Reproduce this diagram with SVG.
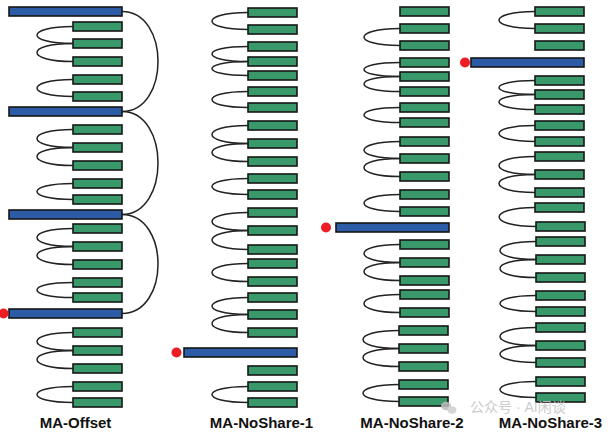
<svg xmlns="http://www.w3.org/2000/svg" width="613" height="438" viewBox="0 0 613 438">
<style>
.g{fill:#3a996a;stroke:#161616;stroke-width:1.6}
.b{fill:#2d5ca6;stroke:#161616;stroke-width:1.6}
.d{fill:#ee1c24}
.c path{fill:none;stroke:#222;stroke-width:1.5}
.lbl{font-family:"Liberation Sans",Arial,sans-serif;font-weight:bold;font-size:15px;fill:#111;text-anchor:middle}
.wm{font-family:"Liberation Sans","Noto Sans CJK SC",sans-serif;font-size:14px;fill:#c4c4c4}
</style>
<rect width="613" height="438" fill="#fff"/>

<!-- Column 1: MA-Offset -->
<g id="offset">
  <g id="o-b1"><rect class="b" x="9" y="7" width="113" height="9"/></g>
  <g id="o-g1"><rect class="g" x="73" y="22" width="49" height="9"/></g>
  <g id="o-g2"><rect class="g" x="73" y="39" width="49" height="9"/></g>
  <g id="o-g3"><rect class="g" x="73" y="57" width="49" height="9"/></g>
  <g id="o-g4"><rect class="g" x="73" y="75" width="49" height="9"/></g>
  <g id="o-g5"><rect class="g" x="73" y="92" width="49" height="9"/></g>
  <g id="o-b2"><rect class="b" x="9" y="107" width="113" height="9"/></g>
  <g id="o-g6"><rect class="g" x="73" y="125" width="49" height="9"/></g>
  <g id="o-g7"><rect class="g" x="73" y="143" width="49" height="9"/></g>
  <g id="o-g8"><rect class="g" x="73" y="161" width="49" height="9"/></g>
  <g id="o-g9"><rect class="g" x="73" y="179" width="49" height="9"/></g>
  <g id="o-g10"><rect class="g" x="73" y="195" width="49" height="9"/></g>
  <g id="o-b3"><rect class="b" x="9" y="210" width="113" height="9"/></g>
  <g id="o-g11"><rect class="g" x="73" y="224" width="49" height="9"/></g>
  <g id="o-g12"><rect class="g" x="73" y="242" width="49" height="9"/></g>
  <g id="o-g13"><rect class="g" x="73" y="260" width="49" height="9"/></g>
  <g id="o-g14"><rect class="g" x="73" y="278" width="49" height="9"/></g>
  <g id="o-g15"><rect class="g" x="73" y="293" width="49" height="9"/></g>
  <g id="o-b4"><rect class="b" x="9" y="309" width="113" height="9"/><circle class="d" cx="3.5" cy="313.5" r="5"/></g>
  <g id="o-g16"><rect class="g" x="73" y="328" width="49" height="9"/></g>
  <g id="o-g17"><rect class="g" x="73" y="346" width="49" height="9"/></g>
  <g id="o-g18"><rect class="g" x="73" y="364" width="49" height="9"/></g>
  <g id="o-g19"><rect class="g" x="73" y="382" width="49" height="9"/></g>
  <g id="o-g20"><rect class="g" x="73" y="398" width="49" height="9"/></g>
</g>

<!-- Column 2: MA-NoShare-1 -->
<g id="noshare1">
  <g id="n1-g1"><rect class="g" x="248" y="8" width="49" height="9"/></g>
  <g id="n1-g2"><rect class="g" x="248" y="25" width="49" height="9"/></g>
  <g id="n1-g3"><rect class="g" x="248" y="42" width="49" height="9"/></g>
  <g id="n1-g4"><rect class="g" x="248" y="57" width="49" height="9"/></g>
  <g id="n1-g5"><rect class="g" x="248" y="71" width="49" height="9"/></g>
  <g id="n1-g6"><rect class="g" x="248" y="87" width="49" height="9"/></g>
  <g id="n1-g7"><rect class="g" x="248" y="103" width="49" height="9"/></g>
  <g id="n1-g8"><rect class="g" x="248" y="121" width="49" height="9"/></g>
  <g id="n1-g9"><rect class="g" x="248" y="139" width="49" height="9"/></g>
  <g id="n1-g10"><rect class="g" x="248" y="157" width="49" height="9"/></g>
  <g id="n1-g11"><rect class="g" x="248" y="174" width="49" height="9"/></g>
  <g id="n1-g12"><rect class="g" x="248" y="190" width="49" height="9"/></g>
  <g id="n1-g13"><rect class="g" x="248" y="208" width="49" height="9"/></g>
  <g id="n1-g14"><rect class="g" x="248" y="226" width="49" height="9"/></g>
  <g id="n1-g15"><rect class="g" x="248" y="245" width="49" height="9"/></g>
  <g id="n1-g16"><rect class="g" x="248" y="259" width="49" height="9"/></g>
  <g id="n1-g17"><rect class="g" x="248" y="277" width="49" height="9"/></g>
  <g id="n1-g18"><rect class="g" x="248" y="293" width="49" height="9"/></g>
  <g id="n1-g19"><rect class="g" x="248" y="310" width="49" height="9"/></g>
  <g id="n1-g20"><rect class="g" x="248" y="328" width="49" height="9"/></g>
  <g id="n1-b1"><rect class="b" x="184" y="348" width="113" height="9"/><circle class="d" cx="176.5" cy="352.5" r="5"/></g>
  <g id="n1-g21"><rect class="g" x="248" y="366" width="49" height="9"/></g>
  <g id="n1-g22"><rect class="g" x="248" y="382" width="49" height="9"/></g>
  <g id="n1-g23"><rect class="g" x="248" y="398" width="49" height="9"/></g>
</g>

<!-- Column 3: MA-NoShare-2 -->
<g id="noshare2">
  <g id="n2-g1"><rect class="g" x="400" y="7" width="49" height="9"/></g>
  <g id="n2-g2"><rect class="g" x="400" y="24" width="49" height="9"/></g>
  <g id="n2-g3"><rect class="g" x="400" y="41" width="49" height="9"/></g>
  <g id="n2-g4"><rect class="g" x="400" y="58" width="49" height="9"/></g>
  <g id="n2-g5"><rect class="g" x="400" y="72" width="49" height="9"/></g>
  <g id="n2-g6"><rect class="g" x="400" y="87" width="49" height="9"/></g>
  <g id="n2-g7"><rect class="g" x="400" y="103" width="49" height="9"/></g>
  <g id="n2-g8"><rect class="g" x="400" y="118" width="49" height="9"/></g>
  <g id="n2-g9"><rect class="g" x="400" y="137" width="49" height="9"/></g>
  <g id="n2-g10"><rect class="g" x="400" y="154" width="49" height="9"/></g>
  <g id="n2-g11"><rect class="g" x="400" y="172" width="49" height="9"/></g>
  <g id="n2-g12"><rect class="g" x="400" y="190" width="49" height="9"/></g>
  <g id="n2-g13"><rect class="g" x="400" y="207" width="49" height="9"/></g>
  <g id="n2-b1"><rect class="b" x="336" y="223" width="113" height="9"/><circle class="d" cx="326" cy="227.5" r="5"/></g>
  <g id="n2-g14"><rect class="g" x="400" y="240" width="49" height="9"/></g>
  <g id="n2-g15"><rect class="g" x="400" y="258" width="49" height="9"/></g>
  <g id="n2-g16"><rect class="g" x="400" y="276" width="49" height="9"/></g>
  <g id="n2-g17"><rect class="g" x="400" y="290" width="49" height="9"/></g>
  <g id="n2-g18"><rect class="g" x="400" y="308" width="49" height="9"/></g>
  <g id="n2-g19"><rect class="g" x="399" y="326" width="49" height="9"/></g>
  <g id="n2-g20"><rect class="g" x="399" y="344" width="49" height="9"/></g>
  <g id="n2-g21"><rect class="g" x="399" y="362" width="49" height="9"/></g>
  <g id="n2-g22"><rect class="g" x="399" y="380" width="49" height="9"/></g>
  <g id="n2-g23"><rect class="g" x="399" y="397" width="49" height="9"/></g>
</g>

<!-- Column 4: MA-NoShare-3 -->
<g id="noshare3">
  <g id="n3-g1"><rect class="g" x="535" y="7" width="49" height="9"/></g>
  <g id="n3-g2"><rect class="g" x="535" y="24" width="49" height="9"/></g>
  <g id="n3-g3"><rect class="g" x="535" y="41" width="49" height="9"/></g>
  <g id="n3-b1"><rect class="b" x="471" y="58" width="113" height="9"/><circle class="d" cx="465" cy="62.5" r="5"/></g>
  <g id="n3-g4"><rect class="g" x="535" y="76" width="49" height="9"/></g>
  <g id="n3-g5"><rect class="g" x="535" y="90" width="49" height="9"/></g>
  <g id="n3-g6"><rect class="g" x="535" y="105" width="49" height="9"/></g>
  <g id="n3-g7"><rect class="g" x="535" y="121" width="49" height="9"/></g>
  <g id="n3-g8"><rect class="g" x="535" y="137" width="49" height="9"/></g>
  <g id="n3-g9"><rect class="g" x="535" y="152" width="49" height="9"/></g>
  <g id="n3-g10"><rect class="g" x="535" y="170" width="49" height="9"/></g>
  <g id="n3-g11"><rect class="g" x="535" y="188" width="49" height="9"/></g>
  <g id="n3-g12"><rect class="g" x="535" y="203" width="49" height="9"/></g>
  <g id="n3-g13"><rect class="g" x="536" y="222" width="49" height="9"/></g>
  <g id="n3-g14"><rect class="g" x="536" y="237" width="49" height="9"/></g>
  <g id="n3-g15"><rect class="g" x="536" y="255" width="49" height="9"/></g>
  <g id="n3-g16"><rect class="g" x="536" y="273" width="49" height="9"/></g>
  <g id="n3-g17"><rect class="g" x="536" y="291" width="49" height="9"/></g>
  <g id="n3-g18"><rect class="g" x="536" y="307" width="49" height="9"/></g>
  <g id="n3-g19"><rect class="g" x="536" y="323" width="49" height="9"/></g>
  <g id="n3-g20"><rect class="g" x="536" y="341" width="49" height="9"/></g>
  <g id="n3-g21"><rect class="g" x="536" y="358" width="49" height="9"/></g>
  <g id="n3-g22"><rect class="g" x="536" y="377" width="49" height="9"/></g>
  <g id="n3-g23"><rect class="g" x="536" y="393" width="49" height="9"/></g>
</g>

<!-- Connectors -->
<g id="connectors" class="c">
  <path d="M122,11.5 C170,11.5 170,111.5 122,111.5"/>
  <path d="M122,111.5 C170,111.5 170,214.5 122,214.5"/>
  <path d="M122,214.5 C170,214.5 170,313.5 122,313.5"/>
  <path d="M73,26.5 C25,26.5 25,43.5 73,43.5"/>
  <path d="M73,43.5 C25,43.5 25,61.5 73,61.5"/>
  <path d="M73,79.5 C25,79.5 25,96.5 73,96.5"/>
  <path d="M73,129.5 C25,129.5 25,147.5 73,147.5"/>
  <path d="M73,147.5 C25,147.5 25,165.5 73,165.5"/>
  <path d="M73,183.5 C25,183.5 25,199.5 73,199.5"/>
  <path d="M73,228.5 C25,228.5 25,246.5 73,246.5"/>
  <path d="M73,246.5 C25,246.5 25,264.5 73,264.5"/>
  <path d="M73,282.5 C25,282.5 25,297.5 73,297.5"/>
  <path d="M73,332.5 C25,332.5 25,350.5 73,350.5"/>
  <path d="M73,350.5 C25,350.5 25,368.5 73,368.5"/>
  <path d="M73,386.5 C25,386.5 25,402.5 73,402.5"/>
  <path d="M248,12.5 C200,12.5 200,29.5 248,29.5"/>
  <path d="M248,46.5 C200,46.5 200,61.5 248,61.5"/>
  <path d="M248,61.5 C200,61.5 200,75.5 248,75.5"/>
  <path d="M248,91.5 C200,91.5 200,107.5 248,107.5"/>
  <path d="M248,125.5 C200,125.5 200,143.5 248,143.5"/>
  <path d="M248,143.5 C200,143.5 200,161.5 248,161.5"/>
  <path d="M248,178.5 C200,178.5 200,194.5 248,194.5"/>
  <path d="M248,212.5 C200,212.5 200,230.5 248,230.5"/>
  <path d="M248,230.5 C200,230.5 200,249.5 248,249.5"/>
  <path d="M248,263.5 C200,263.5 200,281.5 248,281.5"/>
  <path d="M248,297.5 C200,297.5 200,314.5 248,314.5"/>
  <path d="M248,314.5 C200,314.5 200,332.5 248,332.5"/>
  <path d="M248,386.5 C200,386.5 200,402.5 248,402.5"/>
  <path d="M400,28.5 C352,28.5 352,45.5 400,45.5"/>
  <path d="M400,62.5 C352,62.5 352,76.5 400,76.5"/>
  <path d="M400,76.5 C352,76.5 352,91.5 400,91.5"/>
  <path d="M400,107.5 C352,107.5 352,122.5 400,122.5"/>
  <path d="M400,141.5 C352,141.5 352,158.5 400,158.5"/>
  <path d="M400,158.5 C352,158.5 352,176.5 400,176.5"/>
  <path d="M400,194.5 C352,194.5 352,211.5 400,211.5"/>
  <path d="M400,244.5 C352,244.5 352,262.5 400,262.5"/>
  <path d="M400,262.5 C352,262.5 352,280.5 400,280.5"/>
  <path d="M400,294.5 C352,294.5 352,312.5 400,312.5"/>
  <path d="M399,330.5 C351,330.5 351,348.5 399,348.5"/>
  <path d="M399,348.5 C351,348.5 351,366.5 399,366.5"/>
  <path d="M399,384.5 C351,384.5 351,401.5 399,401.5"/>
  <path d="M535,11.5 C487,11.5 487,28.5 535,28.5"/>
  <path d="M535,80.5 C487,80.5 487,94.5 535,94.5"/>
  <path d="M535,94.5 C487,94.5 487,109.5 535,109.5"/>
  <path d="M535,125.5 C487,125.5 487,141.5 535,141.5"/>
  <path d="M535,156.5 C487,156.5 487,174.5 535,174.5"/>
  <path d="M535,174.5 C487,174.5 487,192.5 535,192.5"/>
  <path d="M535,207.5 C487,207.5 487,226.5 536,226.5"/>
  <path d="M536,241.5 C488,241.5 488,259.5 536,259.5"/>
  <path d="M536,259.5 C488,259.5 488,277.5 536,277.5"/>
  <path d="M536,295.5 C488,295.5 488,311.5 536,311.5"/>
  <path d="M536,327.5 C488,327.5 488,345.5 536,345.5"/>
  <path d="M536,345.5 C488,345.5 488,362.5 536,362.5"/>
  <path d="M536,381.5 C488,381.5 488,397.5 536,397.5"/>
</g>

<!-- Labels -->
<g id="labels">
  <text class="lbl" x="75.5" y="428">MA-Offset</text>
  <text class="lbl" x="261.5" y="428">MA-NoShare-1</text>
  <text class="lbl" x="412" y="428">MA-NoShare-2</text>
  <text class="lbl" x="550.5" y="428">MA-NoShare-3</text>
</g>

<!-- Watermark -->
<g id="watermark" opacity="0.85">
  <ellipse cx="446" cy="406" rx="5" ry="4.2" fill="#bdbdbd"/>
  <ellipse cx="452" cy="410" rx="4.5" ry="3.8" fill="#cfcfcf"/>
  <text class="wm" x="470" y="412">公众号 · AI闲谈</text>
</g>
</svg>
